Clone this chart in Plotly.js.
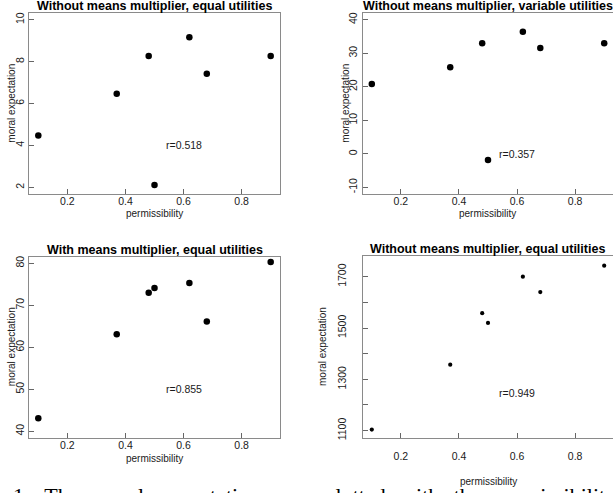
<!DOCTYPE html>
<html>
<head>
<meta charset="utf-8">
<script src="https://cdn.plot.ly/plotly-3.0.1.min.js"></script>
<style>
html,body{margin:0;padding:0;background:#fff;overflow:hidden;width:613px;height:493px;position:relative}
#caption{position:absolute;left:13px;top:485px;white-space:nowrap;font-family:"Liberation Serif","Times New Roman",serif;font-size:22px;line-height:22px;color:#000;word-spacing:9px}
</style>
</head>
<body>
<div id="chart" style="width:613px;height:493px;position:absolute;left:0;top:0"></div>
<div id="caption"></div>
<script>
// ---- data ----
const permissibility = [0.1, 0.37, 0.48, 0.5, 0.62, 0.68, 0.9];
const moralA = [4.47, 6.47, 8.27, 2.11, 9.16, 7.42, 8.27];
const moralB = [20.8, 25.8, 33.0, -1.85, 36.4, 31.55, 33.0];
const moralC = [43.1, 63.1, 73.0, 74.1, 75.3, 66.1, 80.3];
const moralD = [1104, 1357, 1558, 1520, 1700, 1640, 1743];
const panelTitles = [
  "Without means multiplier, equal utilities",
  "Without means multiplier, variable utilities",
  "With means multiplier, equal utilities",
  "Without means multiplier, equal utilities"
];
const rLabels = ["r=0.518", "r=0.357", "r=0.855", "r=0.949"];
const rPos = [[0.6, 4.0], [0.6, -0.1], [0.6, 50], [0.6, 1245]];
const xTicks = [0.2, 0.4, 0.6, 0.8];
const yTicksA = [2, 4, 6, 8, 10];
const yTicksB = [-10, 0, 10, 20, 30, 40];
const yTicksC = [40, 50, 60, 70, 80];
const yTicksD = [1100, 1200, 1300, 1400, 1500, 1600, 1700];
const yTickTextD = ["1100", "", "1300", "", "1500", "", "1700"];
const caption = "1:  The moral expectations are plotted with the permissibility";

document.getElementById("caption").textContent = caption;

const W = 613, H = 493;
const px = x => x / W;
const py = y => 1 - y / H;

const FONT = "Liberation Sans, Arial, sans-serif";
const TXT = "#1a1a1a";
const LINE = "#8a8a8a";

// panel boxes in pixels [left, right, top, bottom]
const boxes = [
  [29, 280, 13, 194],
  [362.5, 613, 13, 194],
  [29, 280, 256.5, 438],
  [362.5, 613, 255.7, 438]
];
const yRanges = [[1.68, 10.32], [-12, 42], [38.4, 81.6], [1071, 1782]];
const ys = [moralA, moralB, moralC, moralD];
const yTickVals = [yTicksA, yTicksB, yTicksC, yTicksD];

const data = [];
const layout = {
  width: W, height: H,
  margin: {l: 0, r: 0, t: 0, b: 0},
  paper_bgcolor: "rgba(0,0,0,0)", plot_bgcolor: "rgba(0,0,0,0)",
  showlegend: false,
  font: {family: FONT, color: TXT, size: 10.5},
  annotations: []
};

for (let i = 0; i < 4; i++) {
  const b = boxes[i];
  const sfx = i === 0 ? "" : String(i + 1);
  const xa = "xaxis" + sfx, ya = "yaxis" + sfx;
  data.push({
    type: "scatter", mode: "markers",
    x: permissibility, y: ys[i],
    xaxis: "x" + sfx, yaxis: "y" + sfx,
    marker: {color: "#000", size: i === 3 ? 4.2 : 6.5},
    cliponaxis: false, hoverinfo: "skip"
  });
  const far = i === 3;
  layout[xa] = {
    domain: [px(b[0]), Math.min(1, px(b[1]))],
    anchor: "y" + sfx,
    range: [0.068, 0.068 + (b[1] - b[0]) / 290.5],
    tickvals: xTicks, ticktext: xTicks.map(v => v.toFixed(1)),
    ticks: "inside", ticklen: 5, tickcolor: "#666", tickwidth: 1,
    showline: true, mirror: true, linecolor: LINE, linewidth: 1,
    showgrid: false, zeroline: false,
    tickfont: {family: FONT, size: 10.5, color: TXT},
    ticklabelstandoff: far ? 8 : -3,
    fixedrange: true
  };
  layout[ya] = {
    domain: [py(b[3]), py(b[2])],
    anchor: "x" + sfx,
    range: yRanges[i],
    tickvals: yTickVals[i],
    ticktext: i === 3 ? yTickTextD : yTickVals[i].map(String),
    tickangle: -90,
    ticks: "inside", ticklen: 5, tickcolor: "#666", tickwidth: 1,
    showline: true, mirror: true, linecolor: LINE, linewidth: 1,
    showgrid: false, zeroline: false,
    tickfont: {family: FONT, size: 10.5, color: TXT},
    ticklabelstandoff: far ? 11 : 0,
    fixedrange: true
  };
  // subplot title
  layout.annotations.push({
    xref: "paper", yref: "paper",
    x: px((b[0] + b[1]) / 2), y: py(b[2] - 7),
    text: "<b>" + panelTitles[i] + "</b>", showarrow: false,
    xanchor: "center", yanchor: "middle",
    font: {family: FONT, size: 12.5, color: "#000"}
  });
  // r label
  layout.annotations.push({
    xref: "x" + sfx, yref: "y" + sfx,
    x: rPos[i][0], y: rPos[i][1],
    text: rLabels[i], showarrow: false,
    xanchor: "center", yanchor: "middle",
    font: {family: FONT, size: 10.5, color: TXT}
  });
}

// axis titles (pixel positions)
const xTitlePos = [[154, 213.5], [487.5, 213.5], [154, 458.5], [488, 481]];
const yTitlePos = [[11.2, 103.5], [345.2, 103.5], [11.2, 347], [322, 347]];
for (let i = 0; i < 4; i++) {
  layout.annotations.push({
    xref: "paper", yref: "paper",
    x: px(xTitlePos[i][0]), y: py(xTitlePos[i][1]),
    text: "permissibility", showarrow: false,
    xanchor: "center", yanchor: "middle",
    font: {family: FONT, size: 10, color: TXT}
  });
  layout.annotations.push({
    xref: "paper", yref: "paper",
    x: px(yTitlePos[i][0]), y: py(yTitlePos[i][1]),
    text: "moral expectation", showarrow: false, textangle: -90,
    xanchor: "center", yanchor: "middle",
    font: {family: FONT, size: 10, color: TXT}
  });
}

Plotly.newPlot("chart", data, layout, {staticPlot: true, displayModeBar: false});
</script>
</body>
</html>
